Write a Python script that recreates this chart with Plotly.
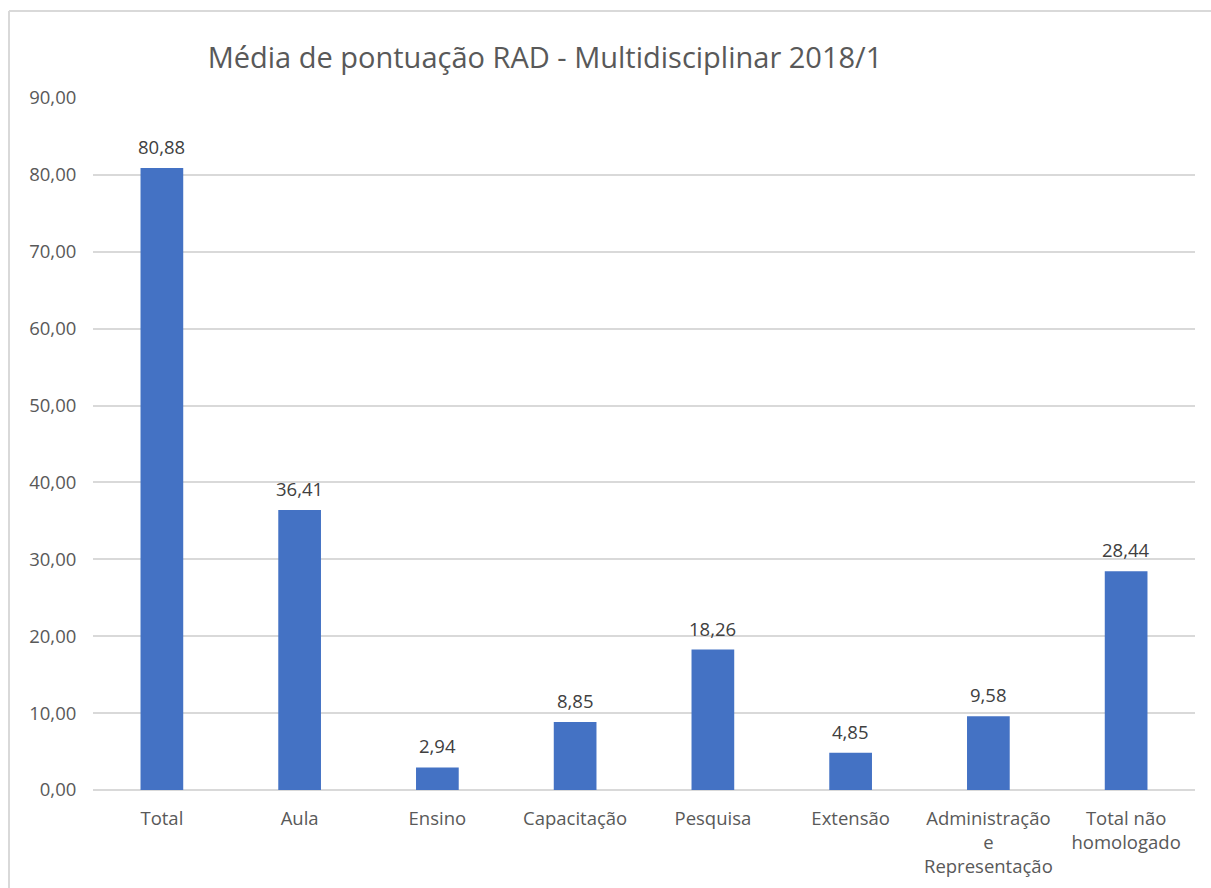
import plotly.graph_objects as go

categories = ["Total", "Aula", "Ensino", "Capacitação", "Pesquisa", "Extensão",
              "Administração<br>e<br>Representação", "Total não<br>homologado"]
values = [80.88, 36.41, 2.94, 8.85, 18.26, 4.85, 9.58, 28.44]
title_text = "Média de pontuação RAD - Multidisciplinar 2018/1"

FONT = "Open Sans"
fig = go.Figure()
fig.add_trace(go.Bar(
    x=categories, y=values,
    marker=dict(color="#4472C4", line=dict(width=0)),
    width=0.31,
    hoverinfo="x+y",
))

for c, v in zip(categories, values):
    fig.add_annotation(x=c, y=v, text=f"{v:.2f}".replace(".", ","),
                       showarrow=False, yanchor="bottom", yshift=7,
                       font=dict(family=FONT, size=18.5, color="#404040"))

fig.update_layout(
    width=1211, height=888,
    paper_bgcolor="white", plot_bgcolor="white",
    separators=",.",
    margin=dict(l=93, r=16, t=98, b=98, autoexpand=False),
    showlegend=False,
    title=dict(text=title_text, x=545/1211, xanchor="center",
               y=1-58/888, yanchor="middle",
               font=dict(family=FONT, size=29, color="#595959")),
    xaxis=dict(showgrid=False, showline=False, zeroline=False, automargin=False,
               ticks="outside", ticklen=12, tickcolor="rgba(0,0,0,0)",
               tickfont=dict(family=FONT, size=18.5, color="#595959")),
    yaxis=dict(range=[0, 90], dtick=10, tickformat=".2f", automargin=False,
               showgrid=True, gridcolor="#D9D9D9", gridwidth=2,
               zeroline=True, zerolinecolor="#D9D9D9", zerolinewidth=2,
               showline=False,
               ticks="outside", ticklen=12, tickcolor="rgba(0,0,0,0)",
               tickfont=dict(family=FONT, size=18.5, color="#595959")),
    shapes=[
        dict(type="line", xref="paper", yref="paper",
             x0=(9-93)/1102, x1=(1211-93)/1102, y0=(790-11)/692, y1=(790-11)/692,
             line=dict(color="#D9D9D9", width=2)),
        dict(type="line", xref="paper", yref="paper",
             x0=(9-93)/1102, x1=(9-93)/1102, y0=(790-11)/692, y1=-98/692,
             line=dict(color="#D9D9D9", width=2)),
    ],
)

fig.write_html("out.html", config={"displayModeBar": False},
               post_script="document.body.style.margin='0';document.body.style.overflow='hidden';")
